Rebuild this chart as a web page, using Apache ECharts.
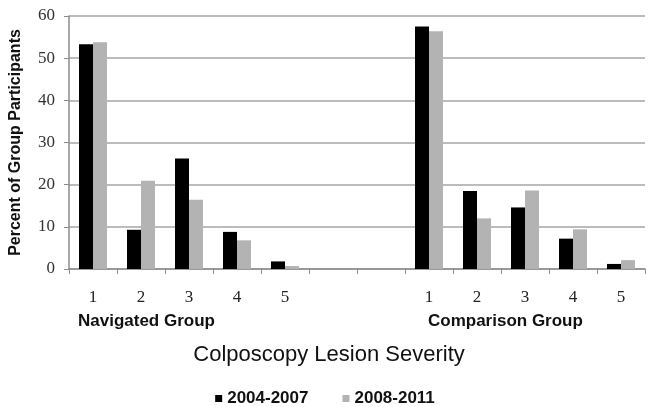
<!DOCTYPE html>
<html>
<head>
<meta charset="utf-8">
<script src="https://cdn.jsdelivr.net/npm/echarts@6/dist/echarts.min.js"></script>
<style>
html,body{margin:0;padding:0;background:#fff;}
#c{width:650px;height:407px;}
</style>
</head>
<body>
<div id="c"></div>
<script>
// Data
var severityLevels = ['1', '2', '3', '4', '5'];
var spacerLabels = ['', ''];
var groupNames = ['Navigated Group', 'Comparison Group'];
var seriesNames = ['2004-2007', '2008-2011'];
var navigated2004 = [53.3, 9.3, 26.2, 8.8, 1.8];
var navigated2008 = [53.8, 20.9, 16.4, 6.8, 0.7];
var comparison2004 = [57.5, 18.5, 14.6, 7.2, 1.2];
var comparison2008 = [56.4, 12.0, 18.6, 9.4, 2.1];
var yTicks = [0, 10, 20, 30, 40, 50, 60];

var categories = severityLevels.concat(spacerLabels, severityLevels);
var gap = spacerLabels.map(function () { return null; });
var data2004 = navigated2004.concat(gap, comparison2004);
var data2008 = navigated2008.concat(gap, comparison2008);

var chart = echarts.init(document.getElementById('c'), null, {renderer: 'canvas'});
var sans = '"Liberation Sans", Arial, sans-serif';
var serif = '"Liberation Serif", "DejaVu Serif", serif';

chart.setOption({
  animation: false,
  backgroundColor: '#fff',
  grid: {left: 67, right: 5, top: 16, bottom: 138, containLabel: false},
  legend: {
    data: seriesNames,
    top: 385,
    left: 'center',
    icon: 'rect',
    itemWidth: 7,
    itemHeight: 7,
    itemGap: 34,
    textStyle: {fontFamily: sans, fontWeight: 'bold', fontSize: 17, color: '#111'}
  },
  xAxis: {
    type: 'category',
    data: categories,
    name: 'Colposcopy Lesion Severity',
    nameLocation: 'middle',
    nameGap: 75,
    nameTextStyle: {fontFamily: sans, fontSize: 22, color: '#111', padding: [0, 56, 0, 0]},
    axisLine: {lineStyle: {color: '#8c8c8c', width: 1.5}},
    axisTick: {show: true, interval: 0, length: 5, lineStyle: {color: '#8c8c8c'}},
    axisLabel: {interval: 0, margin: 20, fontFamily: serif, fontSize: 17, color: '#222'}
  },
  yAxis: {
    type: 'value',
    min: yTicks[0],
    max: yTicks[yTicks.length - 1],
    interval: yTicks[1] - yTicks[0],
    name: 'Percent of Group Participants',
    nameLocation: 'middle',
    nameRotate: 90,
    nameGap: 45,
    nameTextStyle: {fontFamily: sans, fontWeight: 'bold', fontSize: 16, color: '#111'},
    axisLine: {show: true, lineStyle: {color: '#8c8c8c', width: 1.5}},
    axisTick: {show: true, length: 5, lineStyle: {color: '#8c8c8c'}},
    axisLabel: {margin: 14, fontFamily: serif, fontSize: 17, color: '#333'},
    splitLine: {lineStyle: {color: '#a6a6a6', width: 1.5}}
  },
  series: [
    {name: seriesNames[0], type: 'bar', data: data2004, barWidth: 14, barGap: '0%',
     itemStyle: {color: '#000000'}},
    {name: seriesNames[1], type: 'bar', data: data2008, barWidth: 14, barGap: '0%',
     itemStyle: {color: '#b3b3b3'}}
  ]
});

// Group labels placed under the first category of each group
var firstIdx = [0, severityLevels.length + spacerLabels.length];
var offsets = [-15, -1];
var graphics = groupNames.map(function (name, i) {
  var px = chart.convertToPixel({xAxisIndex: 0}, firstIdx[i]);
  return {
    type: 'text',
    left: px + offsets[i],
    top: 313,
    style: {text: name, font: 'bold 17px ' + sans, fill: '#111'}
  };
});
chart.setOption({graphic: graphics});
</script>
</body>
</html>
